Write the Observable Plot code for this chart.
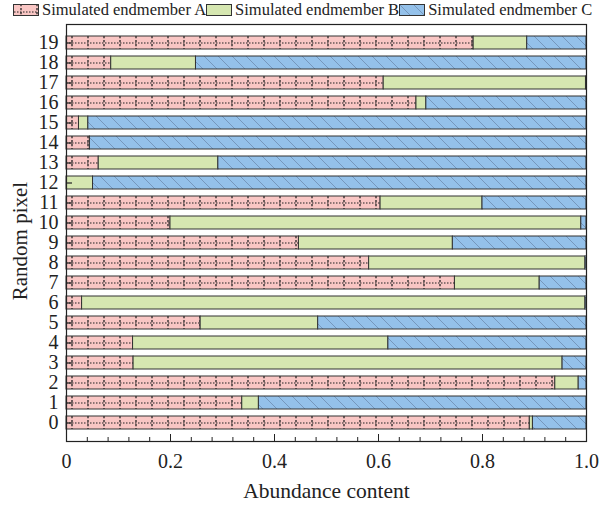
<!DOCTYPE html>
<html><head><meta charset="utf-8">
<script src="https://cdn.jsdelivr.net/npm/d3@7"></script>
<script src="https://cdn.jsdelivr.net/npm/@observablehq/plot@0.6"></script>
<style>
body{margin:0;background:#fff;font-family:"Liberation Serif","Times New Roman",Times,serif;color:#222;}
#legend{height:20px;display:flex;align-items:center;padding-left:13px;font-size:16.5px;line-height:20px;white-space:nowrap;font-family:"Liberation Serif","Times New Roman",Times,serif;}
.item{display:flex;align-items:center;}
.sw{width:26px;height:12px;margin-right:3px;display:block;}
svg text{font-family:"Liberation Serif","Times New Roman",Times,serif !important;}
</style></head><body>
<svg width="0" height="0" style="position:absolute">
<defs>
<pattern id="pA" patternUnits="userSpaceOnUse" width="16" height="4">
 <rect width="16" height="4" fill="#f9c6c4"/>
 <line x1="8" y1="0" x2="8" y2="2.2" stroke="#222" stroke-width="1.3"/>
</pattern>
<pattern id="pC" patternUnits="userSpaceOnUse" width="14" height="14">
 <rect width="14" height="14" fill="#94c1ea"/>
 <path d="M-1,-1L15,15M-8,6L8,22M6,-8L22,8" stroke="#6f8db0" stroke-width="0.8"/>
</pattern>
</defs></svg>
<div id="legend"></div>
<div id="chart"></div>
<script>
const pixels = [0,1,2,3,4,5,6,7,8,9,10,11,12,13,14,15,16,17,18,19];
const endA = [0.891,0.338,0.940,0.129,0.128,0.258,0.030,0.747,0.582,0.447,0.200,0.604,0.000,0.062,0.045,0.024,0.673,0.610,0.086,0.783];
const endB = [0.006,0.032,0.045,0.825,0.491,0.226,0.968,0.163,0.416,0.296,0.790,0.196,0.051,0.230,0.000,0.018,0.019,0.389,0.163,0.103];
const endC = [0.103,0.630,0.015,0.046,0.381,0.516,0.002,0.090,0.002,0.257,0.010,0.200,0.949,0.708,0.955,0.958,0.308,0.001,0.751,0.114];
const seriesNames = ["Simulated endmember A","Simulated endmember B","Simulated endmember C"];
const seriesFills = ["url(#pA)","#d6e7b1","url(#pC)"];
const xTickLabels = [0,0.2,0.4,0.6,0.8,1.0];
const xMinorTicks = [0.04,0.08,0.12,0.16,0.24,0.28,0.32,0.36,0.44,0.48,0.52,0.56,0.64,0.68,0.72,0.76,0.84,0.88,0.92,0.96];
const xTitle = "Abundance content";
const yTitle = "Random pixel";
const serif = "Liberation Serif, Times New Roman, Times, serif";

const rows = [];
pixels.forEach((p,i)=>{
  [endA,endB,endC].forEach((arr,k)=>rows.push({pixel:p, series:seriesNames[k], value:arr[i]}));
});
const rowsA = pixels.map((p,i)=>({pixel:p, value:endA[i]}));

// legend
const leg = document.getElementById("legend");
seriesNames.forEach((n,k)=>{
  const it = document.createElement("div"); it.className="item";
  it.innerHTML = `<svg class="sw" width="26" height="12"><rect x="0.5" y="0.5" width="25" height="11" fill="${seriesFills[k]}" stroke="#333"/>${k===0?'<line x1="1" y1="8" x2="25" y2="8" stroke="#222" stroke-dasharray="1.5,1.5"/>':''}</svg><span>${n}</span>`;
  leg.appendChild(it);
});

const innerW = 520, innerH = 417;
const chart = Plot.plot({
  width:606, height:489,
  marginLeft:66, marginRight:20, marginTop:4, marginBottom:68,
  style:{fontFamily:serif, fontSize:"20px", color:"#222", background:"white", overflow:"visible"},
  x:{domain:[0,1], label:null},
  y:{domain:pixels.slice().reverse(), paddingInner:0.33, paddingOuter:0.19, label:null},
  color:{domain:seriesNames, range:seriesFills},
  marks:[
    Plot.barX(rows, {x:"value", y:"pixel", fill:"series", stroke:"#333", strokeWidth:1}),
    Plot.ruleY(rowsA.filter(d=>d.value>0), {y:"pixel", x1:0, x2:"value", stroke:"#222", strokeWidth:1.2, strokeDasharray:"1.5,1.5"}),
    Plot.tickY(pixels, {y:d=>d, insetRight:innerW-6, stroke:"#222", strokeWidth:1.2}),
    Plot.tickX(xMinorTicks, {x:d=>d, insetTop:innerH-4, stroke:"#222"}),
    Plot.tickX(xTickLabels, {x:d=>d, insetTop:innerH-7, stroke:"#222"}),
    Plot.axisX(xTickLabels, {tickSize:0, tickPadding:12, tickFormat:d=>d===0?"0":d.toFixed(1), fontSize:20, fontFamily:serif, label:null}),
    Plot.axisY(pixels, {tickSize:0, tickPadding:8, fontSize:20, fontFamily:serif, label:null}),
    Plot.frame({stroke:"#222", strokeWidth:1.2}),
    Plot.text([xTitle], {frameAnchor:"bottom", dy:56, fontSize:21.5, fontFamily:serif, fill:"#222"}),
    Plot.text([yTitle], {frameAnchor:"left", dx:-46, dy:8, rotate:-90, textAnchor:"middle", fontSize:21, fontFamily:serif, fill:"#222"})
  ]
});
document.getElementById("chart").appendChild(chart);
</script>
</body></html>
